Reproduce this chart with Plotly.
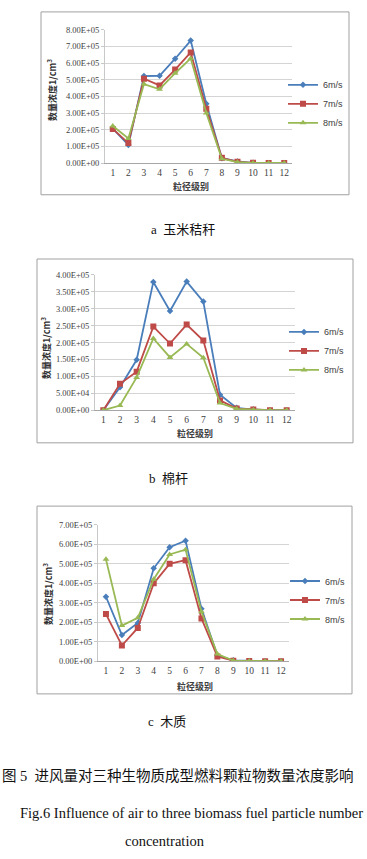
import plotly.graph_objects as go

W, H = 367, 859

categories = [1, 2, 3, 4, 5, 6, 7, 8, 9, 10, 11, 12]
series_names = ["6m/s", "7m/s", "8m/s"]

# a 玉米秸秆
corn_6 = [2.07e5, 1.09e5, 5.22e5, 5.24e5, 6.26e5, 7.35e5, 3.56e5, 0.30e5, 0.10e5, 0.02e5, 0.01e5, 0.01e5]
corn_7 = [2.05e5, 1.20e5, 5.06e5, 4.66e5, 5.61e5, 6.64e5, 3.26e5, 0.32e5, 0.08e5, 0.02e5, 0.01e5, 0.01e5]
corn_8 = [2.23e5, 1.48e5, 4.74e5, 4.43e5, 5.39e5, 6.28e5, 3.00e5, 0.26e5, 0.06e5, 0.01e5, 0.01e5, 0.01e5]

# b 棉杆
cotton_6 = [0.0, 0.68e5, 1.49e5, 3.79e5, 2.93e5, 3.80e5, 3.21e5, 0.46e5, 0.07e5, 0.02e5, 0.0, 0.0]
cotton_7 = [0.0, 0.78e5, 1.14e5, 2.47e5, 1.97e5, 2.53e5, 2.06e5, 0.29e5, 0.05e5, 0.02e5, 0.0, 0.0]
cotton_8 = [0.0, 0.14e5, 0.97e5, 2.12e5, 1.56e5, 1.96e5, 1.55e5, 0.21e5, 0.04e5, 0.01e5, 0.0, 0.0]

# c 木质
wood_6 = [3.31e5, 1.35e5, 1.96e5, 4.77e5, 5.85e5, 6.19e5, 2.70e5, 0.29e5, 0.05e5, 0.01e5, 0.0, 0.0]
wood_7 = [2.42e5, 0.81e5, 1.71e5, 4.00e5, 5.00e5, 5.19e5, 2.20e5, 0.24e5, 0.03e5, 0.01e5, 0.0, 0.0]
wood_8 = [5.23e5, 1.83e5, 2.23e5, 4.21e5, 5.48e5, 5.73e5, 2.54e5, 0.37e5, 0.03e5, 0.01e5, 0.0, 0.0]

ticks_a = [0, 1e5, 2e5, 3e5, 4e5, 5e5, 6e5, 7e5, 8e5]
labels_a = ["0.00E+00", "1.00E+05", "2.00E+05", "3.00E+05", "4.00E+05",
            "5.00E+05", "6.00E+05", "7.00E+05", "8.00E+05"]
ticks_b = [0, 0.5e5, 1e5, 1.5e5, 2e5, 2.5e5, 3e5, 3.5e5, 4e5]
labels_b = ["0.00E+00", "5.00E+04", "1.00E+05", "1.50E+05", "2.00E+05",
            "2.50E+05", "3.00E+05", "3.50E+05", "4.00E+05"]
ticks_c = [0, 1e5, 2e5, 3e5, 4e5, 5e5, 6e5, 7e5]
labels_c = ["0.00E+00", "1.00E+05", "2.00E+05", "3.00E+05", "4.00E+05",
            "5.00E+05", "6.00E+05", "7.00E+05"]

captions = ["a  玉米秸秆", "b  棉杆", "c  木质"]
x_title = "粒径级别"
y_title = "<b>数量浓度1/cm<sup>3</sup></b>"
fig_title_cn = "图 5  进风量对三种生物质成型燃料颗粒物数量浓度影响"
fig_title_en1 = "Fig.6 Influence of air to three biomass fuel particle number"
fig_title_en2 = "concentration"

colors = ["#4A7EBB", "#BE4B48", "#98B954"]
symbols = ["diamond", "square", "triangle-up"]
msizes = [5, 6, 6]


def px(x):
    return x / W


def py(y):
    return 1 - y / H


panels = [
    dict(data=[corn_6, corn_7, corn_8], ticks=ticks_a, labels=labels_a, ymax=8e5,
         xd=(105, 292), yd=(25, 160), frame=(41, 7, 349, 192), leg=(283, 100),
         ytitle=(52, 86), xtitle=(191, 184), cap=(183, 227)),
    dict(data=[cotton_6, cotton_7, cotton_8], ticks=ticks_b, labels=labels_b, ymax=4e5,
         xd=(95, 295), yd=(273, 410), frame=(37, 257, 353, 443), leg=(284, 350),
         ytitle=(46, 347), xtitle=(195, 434), cap=(168, 479)),
    dict(data=[wood_6, wood_7, wood_8], ticks=ticks_c, labels=labels_c, ymax=7e5,
         xd=(98, 289), yd=(526, 664), frame=(37, 507, 352, 697), leg=(285, 602),
         ytitle=(48, 596), xtitle=(195, 690), cap=(167, 725)),
]

fig = go.Figure()
shapes = []
annotations = []
layout_extra = {}


def note(text, x, y, size, family, color="#111111", angle=0):
    annotations.append(dict(text=text, xref="paper", yref="paper",
                            x=px(x), y=py(y), xanchor="center", yanchor="middle",
                            showarrow=False, textangle=angle,
                            font=dict(family=family, size=size, color=color)))


for i, p in enumerate(panels):
    n = "" if i == 0 else str(i + 1)
    legname = "legend" if i == 0 else f"legend{i + 1}"
    for k in range(3):
        fig.add_trace(go.Scatter(
            x=categories, y=p["data"][k], name=series_names[k],
            mode="lines+markers",
            line=dict(color=colors[k], width=1.8),
            marker=dict(symbol=symbols[k], size=msizes[k], color=colors[k]),
            xaxis="x" + n, yaxis="y" + n, legend=legname,
        ))
    layout_extra["xaxis" + n] = dict(
        domain=[px(p["xd"][0]), px(p["xd"][1])], anchor="y" + n,
        range=[0.5, 12.5], tickvals=categories, ticktext=[str(c) for c in categories],
        showgrid=False, zeroline=False, showline=True, linecolor="#A6A6A6",
        linewidth=1, ticks="",
        tickfont=dict(family="Liberation Serif", size=9.5, color="#404040"),
        fixedrange=True,
    )
    layout_extra["yaxis" + n] = dict(
        domain=[py(p["yd"][1]), py(p["yd"][0])], anchor="x" + n,
        range=[0, p["ymax"]], tickvals=p["ticks"], ticktext=p["labels"],
        showgrid=True, gridcolor="#D4D4D4", gridwidth=1, zeroline=False,
        showline=True, linecolor="#C8C8C8", ticks="outside", ticklen=3,
        tickcolor="#C8C8C8",
        tickfont=dict(family="Liberation Serif", size=8.5, color="#404040"),
        fixedrange=True,
    )
    layout_extra[legname] = dict(
        x=px(p["leg"][0]), y=py(p["leg"][1]), xanchor="left", yanchor="middle",
        font=dict(family="Liberation Sans", size=9, color="#404040"),
        bgcolor="rgba(0,0,0,0)", itemwidth=30, tracegroupgap=0,
    )
    fx0, fy0, fx1, fy1 = p["frame"]
    shapes.append(dict(type="rect", xref="paper", yref="paper",
                       x0=px(fx0), x1=px(fx1), y0=py(fy1), y1=py(fy0),
                       line=dict(color="#A0A0A0", width=1)))
    note(y_title, p["ytitle"][0], p["ytitle"][1], 9, "Noto Sans CJK SC", "#303030", -90)
    note("<b>" + x_title + "</b>", p["xtitle"][0], p["xtitle"][1], 9,
         "Noto Sans CJK SC", "#404040")
    note(captions[i], p["cap"][0], p["cap"][1], 13,
         "Liberation Serif, Noto Sans CJK SC")

note(fig_title_cn, 178, 780, 14.5, "Liberation Serif, Noto Sans CJK SC")
note(fig_title_en1, 191, 818, 14.5, "Liberation Serif")
note(fig_title_en2, 165, 846, 14.5, "Liberation Serif")

fig.update_layout(
    width=W, height=H, margin=dict(l=0, r=0, t=0, b=0),
    paper_bgcolor="white", plot_bgcolor="white",
    shapes=shapes, annotations=annotations, showlegend=True,
    hovermode=False,
    **layout_extra,
)

fig.write_html("out.html",
               config={"displayModeBar": False, "staticPlot": True},
               post_script="document.body.style.margin='0';document.body.style.overflow='hidden';")
